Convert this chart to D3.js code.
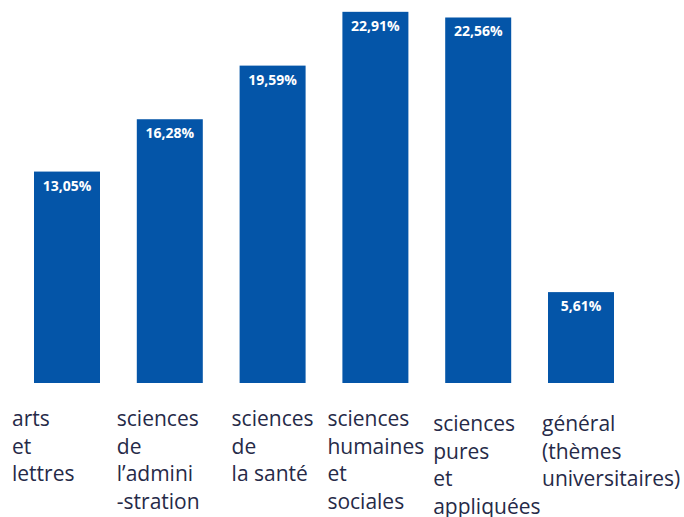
<!DOCTYPE html>
<html>
<head>
<meta charset="utf-8">
<script src="https://cdn.jsdelivr.net/npm/d3@7"></script>
<style>
  body { margin: 0; background: #fff; }
  text { font-family: "Open Sans", "Noto Sans", sans-serif; }
</style>
</head>
<body>
<div id="chart"></div>
<script>
const categories = ["arts", "admin", "sante", "humaines", "pures", "general"];
const values = [13.05, 16.28, 19.59, 22.91, 22.56, 5.61];
const valueLabels = ["13,05%", "16,28%", "19,59%", "22,91%", "22,56%", "5,61%"];
const categoryLines = [
    ["arts", "et", "lettres"],
    ["sciences", "de", "l\u2019admini", "-stration"],
    ["sciences", "de", "la santé"],
    ["sciences", "humaines", "et", "sociales"],
    ["sciences", "pures", "et", "appliquées"],
    ["général", "(thèmes", "universitaires)"]
];
// label block offsets from bar left edge (layout only)
const labelDx = [-22, -20, -8, -15, -12, -6];
const labelDy = [0, 0, 0, 0, 5, 5];

const width = 684, height = 517;

const svg = d3.select("#chart").append("svg")
    .attr("width", width)
    .attr("height", height);

const x = d3.scaleBand()
    .domain(categories)
    .range([34, 614])
    .paddingInner(0.358)
    .paddingOuter(0);

const y = d3.scaleLinear()
    .domain([0, 23.64])
    .range([383, 0]);

svg.selectAll("rect.bar")
    .data(values)
    .join("rect")
    .attr("class", "bar")
    .attr("x", (d, i) => x(categories[i]))
    .attr("y", d => y(d))
    .attr("width", x.bandwidth())
    .attr("height", d => y(0) - y(d))
    .attr("fill", "#0455a8");

svg.selectAll("text.val")
    .data(values)
    .join("text")
    .attr("class", "val")
    .attr("x", (d, i) => x(categories[i]) + x.bandwidth() / 2)
    .attr("y", d => y(d) + 19)
    .attr("text-anchor", "middle")
    .attr("fill", "#fff")
    .style("font-size", "14px")
    .style("font-weight", "bold")
    .text((d, i) => valueLabels[i]);

const labels = svg.selectAll("text.cat")
    .data(categoryLines)
    .join("text")
    .attr("class", "cat")
    .attr("fill", "#262a48")
    .style("font-size", "21px")
    .attr("transform", (d, i) => `translate(${x(categories[i]) + labelDx[i]},${426 + labelDy[i]})`);

labels.selectAll("tspan")
    .data(d => d)
    .join("tspan")
    .attr("x", 0)
    .attr("y", (d, j) => j * 27.7)
    .text(d => d);
</script>
</body>
</html>
